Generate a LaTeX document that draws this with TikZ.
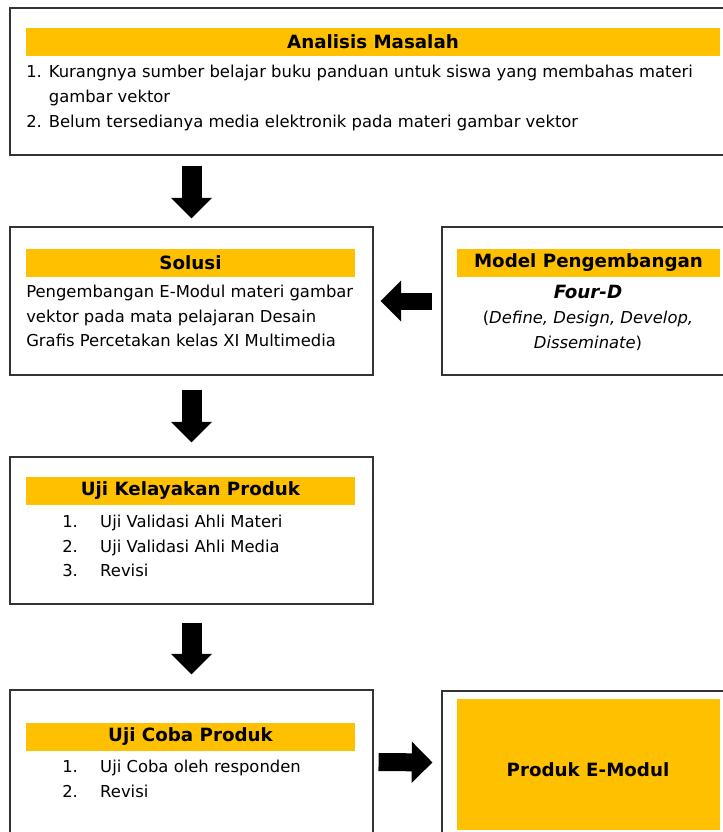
\documentclass[tikz,border=0pt]{standalone}
\usepackage{fontspec}
\setmainfont{DejaVu Sans}
\usetikzlibrary{arrows.meta,positioning,calc}
\definecolor{amber}{RGB}{255,192,0}

\begin{document}
\begin{tikzpicture}[x=0.75pt,y=-0.75pt,
   box/.style={draw=black!80,line width=0.8pt,rectangle,inner sep=0pt},
   bar/.style={fill=amber,minimum height=21pt,inner sep=0pt,
     font=\fontsize{13.7}{16}\selectfont\bfseries},
   txt/.style={inner sep=0pt,align=left,font=\fontsize{12.3}{18.6}\selectfont},
   fat/.style={line width=#1,-{Triangle[width=30pt,length=15.5pt]}},
   fat/.default=15pt]
  \clip (0,0) rectangle (723,832);
  % kotak kiri
  \node[box,minimum width=544.5pt,minimum height=110.25pt] (b1) at (373,81.5) {};
  \node[bar,minimum width=520.5pt] (t1) at (373,42) {Analisis Masalah};
  \node[txt,anchor=west] (x1) at (26,98)
    {1. Kurangnya sumber belajar buku panduan untuk siswa yang membahas materi\\
     \hphantom{1. }gambar vektor\\
     2. Belum tersedianya media elektronik pada materi gambar vektor};
  \node[box,minimum width=272.25pt,minimum height=111pt] (b2) at (191.5,301) {};
  \node[bar,minimum width=246.75pt] (t2) at (190.5,263) {Solusi};
  \node[txt,anchor=west] (x2) at (26,316)
    {Pengembangan E-Modul materi gambar\\
     vektor pada mata pelajaran Desain\\
     Grafis Percetakan kelas XI Multimedia};
  \node[box,minimum width=272.25pt,minimum height=110.25pt] (b3) at (191.5,530.5) {};
  \node[bar,minimum width=246.75pt] (t3) at (190.5,491) {Uji Kelayakan Produk};
  \node[txt,anchor=west] (x3) at (62,546)
    {\makebox[28.5pt][l]{1.}Uji Validasi Ahli Materi\\
     \makebox[28.5pt][l]{2.}Uji Validasi Ahli Media\\
     \makebox[28.5pt][l]{3.}Revisi};
  \node[box,minimum width=272.25pt,minimum height=108pt] (b4) at (191.5,762) {};
  \node[bar,minimum width=246.75pt] (t4) at (190.5,737) {Uji Coba Produk};
  \node[txt,anchor=west] (x4) at (62,779)
    {\makebox[28.5pt][l]{1.}Uji Coba oleh responden\\
     \makebox[28.5pt][l]{2.}Revisi};
  % kotak kanan
  \node[box,minimum width=220.5pt,minimum height=111pt] (m) at (589,301) {};
  \node[bar,minimum width=197.25pt] (tm) at (588.5,263) {Model Pengembangan};
  \node[txt,align=center] (xm) at (588,318)
    {{\fontsize{13.7}{16}\selectfont\textbf{\textit{Four-D}}}\\
     (\textit{Define, Design, Develop,}\\
     \textit{Disseminate})};
  \node[box,minimum width=220.5pt,minimum height=107.25pt] (b5) at (589,762.5) {};
  \node[bar,minimum width=197.25pt,minimum height=98.25pt] (p) at (588.5,764.5) {};
  \node[inner sep=0pt,font=\fontsize{13.7}{16}\selectfont\bfseries] (xp) at (588,770) {Produk E-Modul};
  % panah
  \draw[fat,shorten <=7.5pt,shorten >=6pt] (b2.north |- b1.south) -- (b2.north);
  \draw[fat,shorten <=10.5pt,shorten >=10.5pt] (b2.south) -- (b3.north);
  \draw[fat,shorten <=13.5pt,shorten >=11.25pt] (b3.south) -- (b4.north);
  \draw[fat=12.75pt,shorten <=6.75pt,shorten >=5.25pt] (m.west) -- (b2.east);
  \draw[fat=13.5pt,shorten <=3.75pt,shorten >=6.75pt] (b4.east) -- (b5.west);
\end{tikzpicture}
\end{document}
